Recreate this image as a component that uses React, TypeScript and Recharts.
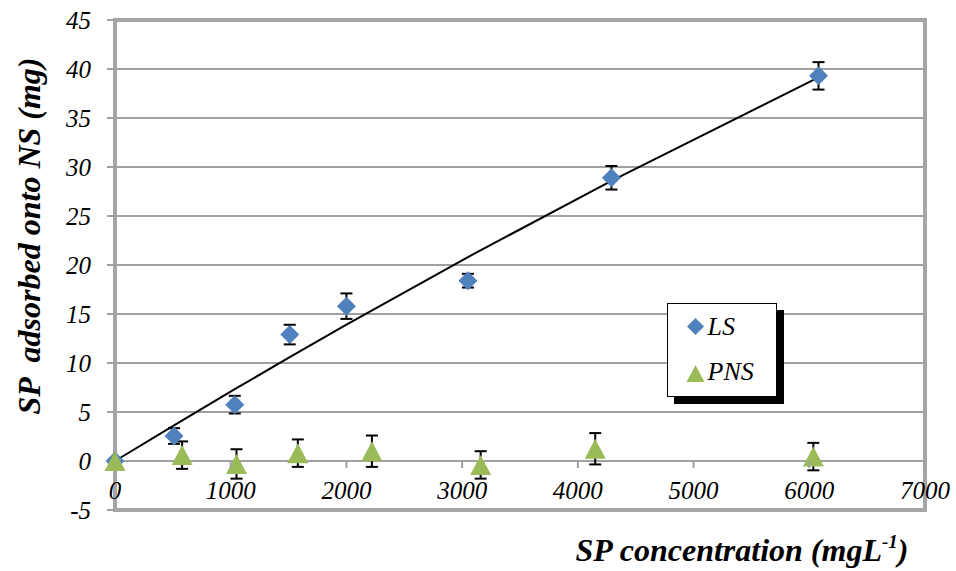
import {
  ComposedChart,
  Scatter,
  Line,
  XAxis,
  YAxis,
  CartesianGrid,
  ErrorBar,
  ReferenceArea,
  Legend,
  Label,
} from "recharts";

// LS series (SP concentration in mg/L, adsorbed in mg)
const lsConc = [0, 510, 1035, 1510, 2000, 3050, 4290, 6080];
const lsAdsorbed = [0, 2.55, 5.75, 12.9, 15.8, 18.4, 28.9, 39.3];
const lsError = [null, 0.8, 0.9, 1.0, 1.3, 0.7, 1.2, 1.4];

// PNS series
const pnsConc = [0, 580, 1050, 1580, 2220, 3160, 4150, 6035];
const pnsAdsorbed = [0, 0.6, -0.3, 0.8, 1.0, -0.4, 1.25, 0.45];
const pnsError = [null, 1.4, 1.5, 1.4, 1.6, 1.4, 1.6, 1.4];

const xTicks = [0, 1000, 2000, 3000, 4000, 5000, 6000, 7000];
const yTicks = [-5, 0, 5, 10, 15, 20, 25, 30, 35, 40, 45];

const seriesNames = ["LS", "PNS"];

const BLUE = "#4f81bd";
const GREEN = "#9bbb59";
const GRID = "#a0a0a0";
const FONT = "'Liberation Serif', 'Times New Roman', serif";

const W = 956;
const H = 571;
const PLOT_TOP = 20;
const PLOT_BOTTOM = 510;
// distance from the bottom edge (-5) up to the zero line
const ZERO_SHIFT = ((PLOT_BOTTOM - PLOT_TOP) * 5) / 50;

const lsData = lsConc.map((x, i) => ({ x, y: lsAdsorbed[i], err: lsError[i] }));
const pnsData = pnsConc.map((x, i) => ({ x, y: pnsAdsorbed[i], err: pnsError[i] }));

// 2nd order polynomial trendline through the origin, least squares on LS
const fitQuad = (xs: number[], ys: number[]) => {
  let s2 = 0, s3 = 0, s4 = 0, sxy = 0, sx2y = 0;
  xs.forEach((x, i) => {
    s2 += x * x;
    s3 += x * x * x;
    s4 += x * x * x * x;
    sxy += x * ys[i];
    sx2y += x * x * ys[i];
  });
  const det = s2 * s4 - s3 * s3;
  const a = (sxy * s4 - sx2y * s3) / det;
  const b = (s2 * sx2y - s3 * sxy) / det;
  return { a, b };
};
const fit = fitQuad(lsConc, lsAdsorbed);
const trendData = lsConc.map((x) => ({ x, y: fit.a * x + fit.b * x * x }));

const Diamond = (props: any) => {
  const { cx, cy } = props;
  const r = 9.5;
  return <path d={`M${cx} ${cy - r}L${cx + r} ${cy}L${cx} ${cy + r}L${cx - r} ${cy}Z`} fill={BLUE} />;
};

const Triangle = (props: any) => {
  const { cx, cy } = props;
  return <path d={`M${cx} ${cy - 10}L${cx + 10.5} ${cy + 10}L${cx - 10.5} ${cy + 10}Z`} fill={GREEN} />;
};

const XTick = (props: any) => {
  const { x, y, payload } = props;
  const y0 = y - ZERO_SHIFT;
  return (
    <g>
      {payload.value !== 0 && <line x1={x} x2={x} y1={y0} y2={y0 + 7} stroke={GRID} strokeWidth={2} />}
      <text x={x} y={y0 + 38} textAnchor="middle" style={{ fontFamily: FONT, fontStyle: "italic", fontSize: 25 }} fill="#000">
        {payload.value}
      </text>
    </g>
  );
};

const legendText = { fontFamily: FONT, fontStyle: "italic", fontSize: 26 };

const LegendBox = () => (
  <div
    style={{
      width: 110,
      height: 94,
      border: "1.5px solid #000",
      background: "#fff",
      boxShadow: "7px 7px 0 #000",
      boxSizing: "border-box",
    }}
  >
    <svg width={107} height={91} style={{ display: "block" }}>
      <path d="M27.5 14L36 22.5L27.5 31L19 22.5Z" fill={BLUE} />
      <text x={39.5} y={31} style={legendText} fill="#000">
        {seriesNames[0]}
      </text>
      <path d="M27.5 61L36.5 78L18.5 78Z" fill={GREEN} />
      <text x={39.5} y={76} style={legendText} fill="#000">
        {seriesNames[1]}
      </text>
    </svg>
  </div>
);

const titleStyle = { fontFamily: FONT, fontStyle: "italic", fontWeight: "bold", fontSize: 32, whiteSpace: "pre" } as const;

export default function App() {
  return (
    <div style={{ position: "absolute", left: 0, top: 0 }}>
      <ComposedChart width={W} height={H} margin={{ top: PLOT_TOP, right: 31, bottom: 60, left: 55 }}>
        <CartesianGrid vertical={false} stroke={GRID} strokeWidth={2} />
        <ReferenceArea
          x1={0}
          x2={7000}
          y1={-5}
          y2={45}
          fill="none"
          fillOpacity={0}
          stroke="#a5a5a5"
          strokeWidth={4}
          ifOverflow="visible"
        />
        <XAxis
          type="number"
          dataKey="x"
          domain={[0, 7000]}
          ticks={xTicks}
          height={1}
          axisLine={false}
          tickLine={false}
          tickSize={0}
          tickMargin={0}
          tick={<XTick />}
          interval={0}
        >
          <Label
            content={() => (
              <text x={742} y={561} textAnchor="middle" style={titleStyle} fill="#000">
                SP concentration (mgL
                <tspan dy={-13} style={{ fontSize: 19 }}>-1</tspan>
                <tspan dy={13}>)</tspan>
              </text>
            )}
          />
        </XAxis>
        <YAxis
          type="number"
          domain={[-5, 45]}
          ticks={yTicks}
          width={60}
          allowDataOverflow
          axisLine={false}
          tickLine={{ stroke: GRID, strokeWidth: 2 }}
          tickSize={8}
          tickMargin={16}
          interval={0}
          tick={{ fill: "#000", fontSize: 25, fontStyle: "italic", fontFamily: FONT }}
        >
          <Label
            content={() => (
              <text transform="translate(40,236) rotate(-90)" textAnchor="middle" style={titleStyle} fill="#000">
                {"SP  adsorbed onto NS (mg)"}
              </text>
            )}
          />
        </YAxis>
        <Scatter name={seriesNames[0]} data={lsData} dataKey="y" shape={<Diamond />} isAnimationActive={false}>
          <ErrorBar dataKey="err" direction="y" width={6} stroke="#000" strokeWidth={2} />
        </Scatter>
        <Scatter name={seriesNames[1]} data={pnsData} dataKey="y" shape={<Triangle />} isAnimationActive={false}>
          <ErrorBar dataKey="err" direction="y" width={6} stroke="#000" strokeWidth={2} />
        </Scatter>
        <Line
          data={trendData}
          dataKey="y"
          type="linear"
          stroke="#000"
          strokeWidth={2}
          dot={false}
          activeDot={false}
          legendType="none"
          isAnimationActive={false}
        />
        <Legend
          layout="horizontal"
          verticalAlign="middle"
          align="center"
          content={<LegendBox />}
          wrapperStyle={{ left: 667, top: 303, width: "auto", height: "auto" }}
        />
      </ComposedChart>
    </div>
  );
}
